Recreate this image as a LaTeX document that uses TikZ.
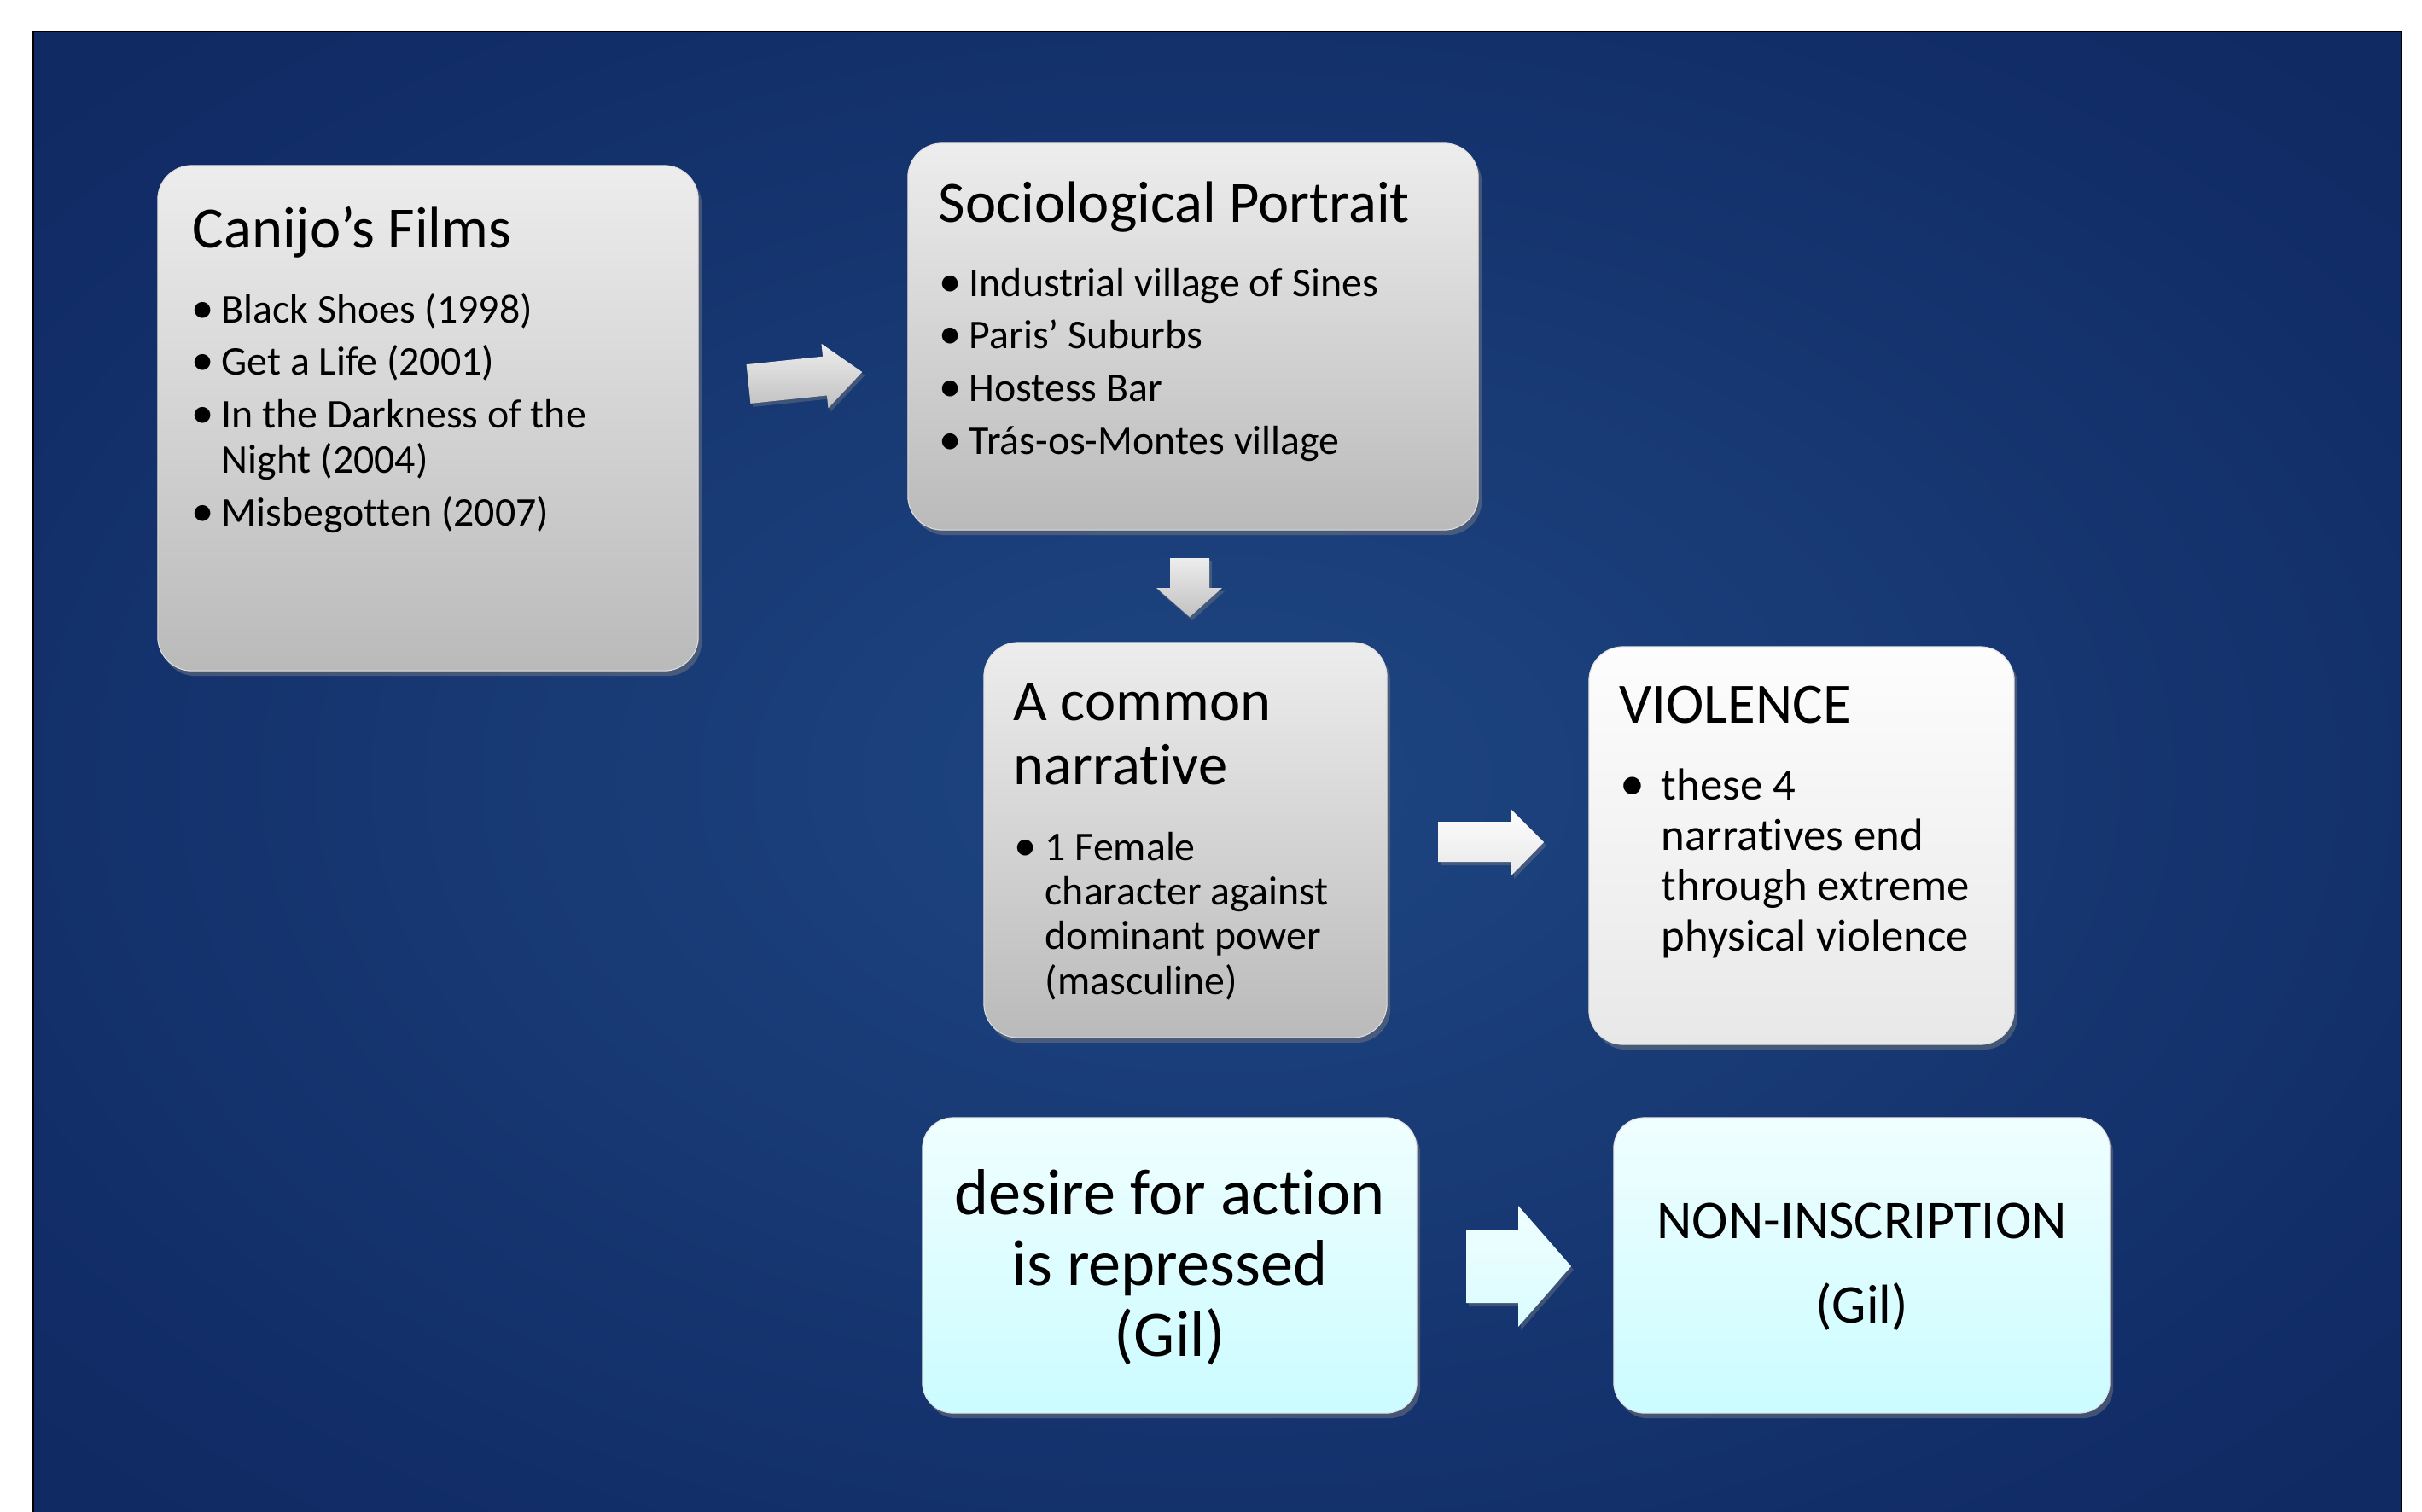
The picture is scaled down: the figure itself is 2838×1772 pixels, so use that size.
\documentclass[tikz,border=0pt]{standalone}
\usepackage{fontspec}
\setmainfont{Carlito}[Ligatures={NoCommon,NoContextual,NoRare}]
\usetikzlibrary{shadows}

\definecolor{bgdark}{RGB}{11,30,84}
\definecolor{bgmid}{RGB}{17,44,102}
\definecolor{bglight}{RGB}{30,70,130}
\definecolor{greytop}{RGB}{237,237,237}
\definecolor{greybot}{RGB}{186,186,186}
\definecolor{whitetop}{RGB}{253,253,253}
\definecolor{whitebot}{RGB}{232,232,232}
\definecolor{cyantop}{RGB}{240,254,255}
\definecolor{cyanbot}{RGB}{203,252,255}

\pgfdeclareradialshading{bgglow}{\pgfpoint{0bp}{0bp}}{%
  color(0bp)=(bglight); color(30bp)=(bgmid); color(62bp)=(bgdark); color(80bp)=(bgdark)}

\newlength{\bltw}
\newcommand{\pitem}[1]{\par\hangindent=\bltw\hangafter=1\noindent\makebox[\bltw][l]{\scalebox{1.1}{•}}#1}

\tikzset{
  panel/.style={rounded corners=0.4cm, draw=white!75!gray, line width=0.3pt,
    drop shadow={opacity=0.45, shadow xshift=0.04cm, shadow yshift=-0.06cm}},
  greypanel/.style={panel, top color=greytop, bottom color=greybot},
  whitepanel/.style={panel, top color=whitetop, bottom color=whitebot},
  cyanpanel/.style={panel, top color=cyantop, bottom color=cyanbot},
  title/.style={anchor=base west, inner sep=0pt, font=\fontsize{19.5}{21.6}\selectfont},
  list/.style={anchor=base west, inner sep=0pt, font=\fontsize{13.6}{14.9}\selectfont},
  fatarrow/.style={drop shadow={opacity=0.4, shadow xshift=0.03cm, shadow yshift=-0.04cm}}
}

\begin{document}
\begin{tikzpicture}[x=0.01cm,y=-0.01cm]

\useasboundingbox (0,0) rectangle (2838,1772);

% background
\shade [shading=bgglow] (39,37) rectangle (2814,1790);
\draw [black,line width=0.8pt] (39,1790) -- (39,37) -- (2814,37) -- (2814,1790);

% boxes
\node [greypanel, minimum width=6.33cm, minimum height=5.92cm] (canijo) at (501.5,490) {};
\node [greypanel, minimum width=6.68cm, minimum height=4.53cm] (socio) at (1398,394.5) {};
\node [greypanel, minimum width=4.72cm, minimum height=4.63cm] (common) at (1389,984.5) {};
\node [whitepanel, minimum width=4.98cm, minimum height=4.66cm] (violence) at (2111,991) {};
\node [cyanpanel, rounded corners=0.36cm, minimum width=5.79cm, minimum height=3.46cm] (desire) at (1370.5,1483) {};
\node [cyanpanel, rounded corners=0.36cm, minimum width=5.81cm, minimum height=3.46cm] (noninsc) at (2181.5,1483) {};

% texts
\node [title] (canijotitle) at (225,290) {Canijo’s Films};
\node [list] (canijolist) at (224,378) {\parbox[t]{6cm}{\setlength{\parskip}{2.7pt}\setlength{\bltw}{0.35cm}%
  \pitem{Black Shoes (1998)}
  \pitem{Get a Life (2001)}
  \pitem{In the Darkness of the\newline Night (2004)}
  \pitem{Misbegotten (2007)}}};

\node [title] (sociotitle) at (1099,260) {Sociological Portrait};
\node [list] (sociolist) at (1100,347) {\parbox[t]{6.5cm}{\setlength{\parskip}{2.7pt}\setlength{\bltw}{0.35cm}%
  \pitem{Industrial village of Sines}
  \pitem{Paris’ Suburbs}
  \pitem{Hostess Bar}
  \pitem{Trás-os-Montes village}}};

\node [title] (commontitle) at (1187,844) {\parbox[t]{4.3cm}{A common\newline narrative}};
\node [list] (commonlist) at (1188,1008) {\parbox[t]{4.3cm}{\setlength{\bltw}{0.36cm}%
  \pitem{1 Female\newline character against\newline dominant power\newline (masculine)}}};

\node [title, font=\fontsize{19}{21}\selectfont] (violencetitle) at (1897,847) {VIOLENCE};
\node [list, font=\fontsize{15}{16.8}\selectfont] (violencelist) at (1898,937) {\parbox[t]{4.5cm}{\setlength{\bltw}{0.48cm}%
  \pitem{these 4\newline narratives end\newline through extreme\newline physical violence}}};

\node [anchor=base, inner sep=0pt, font=\fontsize{21.7}{23.7}\selectfont] (desiretext) at (1370.5,1423)
  {\parbox[t]{5.6cm}{\centering desire for action\\ is repressed\\ (Gil)}};
\node [anchor=base, inner sep=0pt, font=\fontsize{18.2}{28.2}\selectfont] (noninsctext) at (2181.5,1451)
  {\parbox[t]{5.6cm}{\centering NON-INSCRIPTION\\ (Gil)}};

% block arrows
\begin{scope}[shift={(877,450)},rotate=6]
\shade [fatarrow, top color=greytop, bottom color=greybot!90!white]
  (0,-23) -- (90,-23) -- (90,-38) -- (134,0) -- (90,38) -- (90,23) -- (0,23) -- cycle;
\end{scope}

\shade [fatarrow, top color=greytop, bottom color=greybot!90!white]
  (1371,654) -- (1417,654) -- (1417,689) -- (1432,689) -- (1394,723)
  -- (1355,689) -- (1371,689) -- cycle;

\shade [fatarrow, top color=whitetop, bottom color=whitebot]
  (1685,963) -- (1771,963) -- (1771,949) -- (1809,987) -- (1771,1026)
  -- (1771,1010) -- (1685,1010) -- cycle;

\shade [fatarrow, top color=cyantop, bottom color=cyanbot!60!cyantop]
  (1718,1441) -- (1779,1441) -- (1779,1413) -- (1841,1484) -- (1779,1555)
  -- (1779,1527) -- (1718,1527) -- cycle;

\end{tikzpicture}
\end{document}
